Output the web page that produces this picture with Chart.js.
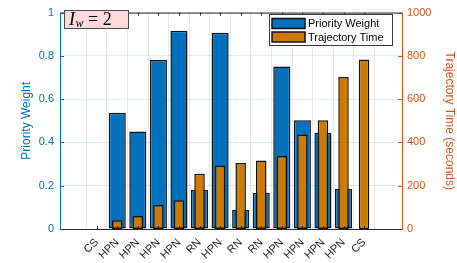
<!DOCTYPE html>
<html>
<head>
<meta charset="utf-8">
<script src="https://cdn.jsdelivr.net/npm/chart.js@4/dist/chart.umd.min.js"></script>
<style>
html,body{margin:0;padding:0;background:#fff;}
#wrap{width:457px;height:263px;position:relative;}
</style>
</head>
<body>
<div id="wrap"><canvas id="c" width="457" height="263"></canvas></div>
<script>
const categories = ['CS','HPN','HPN','HPN','HPN','RN','HPN','RN','RN','HPN','HPN','HPN','HPN','CS'];
const priorityWeight = [0, 0.537, 0.450, 0.781, 0.916, 0.180, 0.907, 0.088, 0.168, 0.751, 0.502, 0.445, 0.185, 0];
const trajectoryTime = [0, 40, 60, 111, 133, 255, 293, 305, 317, 337, 437, 503, 702, 783];
const leftTicks = [0, 0.2, 0.4, 0.6, 0.8, 1];
const rightTicks = [0, 200, 400, 600, 800, 1000];
const seriesNames = ['Priority Weight', 'Trajectory Time'];
const boxLabel = {main: 'I', sub: 'w', rest: ' = 2'};

const BLUE = '#0072BD';
const ORANGE = '#D95319';
const BAR_ORANGE = '#CC7B00';
const DARK = '#262626';
const FONT = "'Liberation Sans', Arial, Helvetica, sans-serif";

const blueData = priorityWeight.map((v, i) => ({x: i, y: v}));
const orangeData = trajectoryTime.map((v, i) => ({x: i, y: v}));

const decor = {
  id: 'decor',
  afterDatasetsDraw(chart) {
    const ctx = chart.ctx;
    const a = chart.chartArea;
    const xs = chart.scales.x, yl = chart.scales.y, yr = chart.scales.y1;
    ctx.save();
    // ticks inside
    ctx.lineWidth = 1;
    ctx.strokeStyle = BLUE;
    leftTicks.forEach(v => {
      const y = Math.round(yl.getPixelForValue(v)) + 0.5;
      ctx.beginPath(); ctx.moveTo(a.left, y); ctx.lineTo(a.left + 4, y); ctx.stroke();
    });
    ctx.strokeStyle = ORANGE;
    rightTicks.forEach(v => {
      const y = Math.round(yr.getPixelForValue(v)) + 0.5;
      ctx.beginPath(); ctx.moveTo(a.right, y); ctx.lineTo(a.right - 4, y); ctx.stroke();
    });
    ctx.strokeStyle = DARK;
    categories.forEach((c, i) => {
      const x = Math.round(xs.getPixelForValue(i)) + 0.5;
      ctx.beginPath(); ctx.moveTo(x, a.bottom); ctx.lineTo(x, a.bottom - 3); ctx.stroke();
      ctx.beginPath(); ctx.moveTo(x, a.top); ctx.lineTo(x, a.top + 3); ctx.stroke();
    });
    // frame
    ctx.lineWidth = 1;
    ctx.strokeStyle = DARK;
    ctx.beginPath(); ctx.moveTo(a.left, a.top + 0.5); ctx.lineTo(a.right, a.top + 0.5); ctx.stroke();
    ctx.beginPath(); ctx.moveTo(a.left, a.bottom + 0.5); ctx.lineTo(a.right, a.bottom + 0.5); ctx.stroke();
    ctx.strokeStyle = BLUE;
    ctx.beginPath(); ctx.moveTo(a.left + 0.5, a.top); ctx.lineTo(a.left + 0.5, a.bottom + 1); ctx.stroke();
    ctx.strokeStyle = ORANGE;
    ctx.beginPath(); ctx.moveTo(a.right + 0.5, a.top); ctx.lineTo(a.right + 0.5, a.bottom + 1); ctx.stroke();

    // legend
    const lx = 269.5, ly = 14.5, lw = 123, lh = 31;
    ctx.fillStyle = '#fff';
    ctx.fillRect(lx, ly, lw, lh);
    ctx.strokeStyle = '#3c3c3c';
    ctx.lineWidth = 1;
    ctx.strokeRect(lx, ly, lw, lh);
    const sw = [[BLUE, 18.5], [BAR_ORANGE, 32]];
    ctx.font = '11px ' + FONT;
    ctx.textBaseline = 'middle';
    ctx.textAlign = 'left';
    sw.forEach((s, i) => {
      ctx.fillStyle = s[0];
      ctx.fillRect(272, s[1], 33, 10);
      ctx.lineWidth = 1.5;
      ctx.strokeStyle = '#111';
      ctx.strokeRect(272, s[1], 33, 10);
      ctx.fillStyle = '#000';
      ctx.fillText(seriesNames[i], 308, s[1] + 5.5);
    });

    // I_w box
    ctx.fillStyle = '#FFD9D9';
    ctx.fillRect(64.5, 10.5, 64, 18);
    ctx.strokeStyle = '#4a4a4a';
    ctx.lineWidth = 1;
    ctx.strokeRect(64.5, 10.5, 64, 18);
    ctx.fillStyle = '#000';
    ctx.textBaseline = 'alphabetic';
    ctx.font = 'italic 18px "Liberation Serif", "DejaVu Serif", serif';
    ctx.fillText(boxLabel.main, 69, 25);
    let x = 69 + ctx.measureText(boxLabel.main).width + 0.5;
    ctx.font = 'italic 12px "Liberation Serif", "DejaVu Serif", serif';
    ctx.fillText(boxLabel.sub, x, 27);
    x += ctx.measureText(boxLabel.sub).width;
    ctx.font = '18px "Liberation Serif", "DejaVu Serif", serif';
    ctx.fillText(boxLabel.rest, x, 25);
    ctx.restore();
  }
};

new Chart(document.getElementById('c'), {
  type: 'bar',
  data: {
    datasets: [
      {
        label: seriesNames[0], data: blueData, yAxisID: 'y', order: 1,
        backgroundColor: BLUE, borderColor: '#111', borderWidth: 1.5,
        grouped: false, barPercentage: 0.83, categoryPercentage: 1, borderSkipped: false
      },
      {
        label: seriesNames[1], data: orangeData, yAxisID: 'y1', order: 0,
        backgroundColor: BAR_ORANGE, borderColor: '#111', borderWidth: 1.5,
        grouped: false, barPercentage: 0.51, categoryPercentage: 1, borderSkipped: false
      }
    ]
  },
  options: {
    responsive: false,
    animation: false,
    layout: {padding: {top: 6, left: 0, right: 0, bottom: 0}},
    plugins: {legend: {display: false}, tooltip: {enabled: false}},
    scales: {
      x: {
        type: 'linear', min: -1.19, max: 14.25,
        afterBuildTicks(s) { s.ticks = categories.map((c, i) => ({value: i})); },
        afterFit(s) { s.height = 34; },
        ticks: {
          autoSkip: false, maxRotation: 45, minRotation: 45, padding: 7,
          color: DARK, font: {family: FONT, size: 11},
          callback: (v) => categories[v] !== undefined ? categories[v] : ''
        },
        grid: {color: 'rgba(38,38,38,0.10)', drawTicks: false},
        border: {display: false}
      },
      y: {
        position: 'left', min: 0, max: 1,
        afterBuildTicks(s) { s.ticks = leftTicks.map(v => ({value: v})); },
        afterFit(s) { s.width = 60; },
        ticks: {color: BLUE, font: {family: FONT, size: 11}, padding: 6,
          callback: v => String(v)},
        grid: {color: 'rgba(0,114,189,0.13)', drawTicks: false},
        border: {display: false},
        title: {display: true, text: seriesNames[0], color: BLUE, font: {family: FONT, size: 12}, padding: {top: 19, bottom: 2}}
      },
      y1: {
        position: 'right', min: 0, max: 1000,
        afterBuildTicks(s) { s.ticks = rightTicks.map(v => ({value: v})); },
        afterFit(s) { s.width = 55; },
        ticks: {color: ORANGE, font: {family: FONT, size: 11}, padding: 5,
          callback: v => String(v)},
        grid: {display: false, drawTicks: false},
        border: {display: false},
        title: {display: true, text: 'Trajectory Time (seconds)', color: ORANGE, font: {family: FONT, size: 12}, padding: {top: 0, bottom: 0}}
      }
    }
  },
  plugins: [decor]
});
</script>
</body>
</html>
